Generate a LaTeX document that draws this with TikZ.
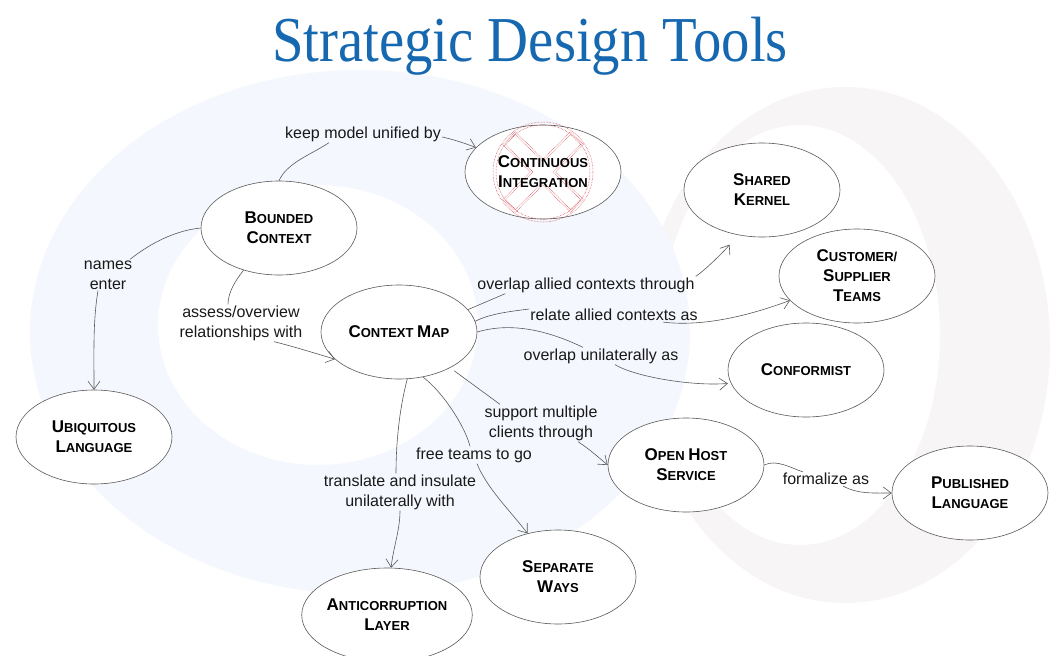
\documentclass[tikz,border=0pt]{standalone}
\usepackage{fontspec}
\setmainfont{Liberation Sans}
\newfontfamily\titlefont{Liberation Serif}
\usetikzlibrary{shapes.geometric}
\usetikzlibrary{arrows.meta}

\definecolor{titleblue}{RGB}{22,104,176}
\definecolor{bgblue}{RGB}{244,247,253}
\definecolor{bgpink}{RGB}{248,245,247}
\definecolor{xred}{RGB}{205,40,50}

\newcommand{\capword}[2]{{\fontsize{17}{20}\selectfont #1}{\fontsize{13}{20}\selectfont #2}}

\tikzset{
  concept/.style={ellipse,draw=black!65,fill=white,line width=0.6pt,minimum width=156pt,minimum height=94pt,inner sep=0pt,align=center,font=\fontsize{13}{20}\selectfont\bfseries},
  lbl/.style={align=center,inner sep=1pt,font=\fontsize{16}{20}\selectfont,text=black!90},
  link/.style={draw=black!65,line width=0.6pt},
  >={Straight Barb[length=8pt,width=12pt]}
}

\begin{document}
\begin{tikzpicture}[x=1pt,y=-1pt]
        \useasboundingbox (0,0) rectangle (1061,656);
        \fill[white] (0,0) rectangle (1061,656);

        \fill[bgpink,even odd rule] (845,345) ellipse [x radius=205,y radius=258] (800,335) ellipse [x radius=140,y radius=210];
        \fill[bgblue,even odd rule] (360,332) ellipse [x radius=330,y radius=262] (318,325) ellipse [x radius=160,y radius=140];

        \node[text=titleblue,font=\titlefont\fontsize{64}{72}\selectfont,anchor=base] (title) at (530,61) {\scalebox{0.886}[1]{Strategic Design Tools}};

        \node[concept] (bc) at (279,228) {\capword{B}{OUNDED}\\\capword{C}{ONTEXT}};
        \node[concept] (ci) at (543,172) {};
        \node[concept] (ul) at (94,437) {\capword{U}{BIQUITOUS}\\\capword{L}{ANGUAGE}};
        \node[concept] (cm) at (399,332) {\capword{C}{ONTEXT} \capword{M}{AP}};
        \node[concept] (sk) at (762,190) {\capword{S}{HARED}\\\capword{K}{ERNEL}};
        \node[concept] (cst) at (857,276) {\capword{C}{USTOMER/}\\\capword{S}{UPPLIER}\\\capword{T}{EAMS}};
        \node[concept] (conf) at (806,370) {\capword{C}{ONFORMIST}};
        \node[concept] (ohs) at (686,465) {\capword{O}{PEN} \capword{H}{OST}\\\capword{S}{ERVICE}};
        \node[concept] (pl) at (970,493) {\capword{P}{UBLISHED}\\\capword{L}{ANGUAGE}};
        \node[concept] (sw) at (558,577) {\capword{S}{EPARATE}\\\capword{W}{AYS}};
        \node[concept,minimum width=166pt] (acl) at (387,615) {\capword{A}{NTICORRUPTION}\\\capword{L}{AYER}};

        \begin{scope}[xred,line width=0.5pt,densely dotted]
            \draw (ci.center) circle (50) (ci.center) circle (47);
            \draw[shift={(ci.center)},rotate=45] (46,7) -- (7,7) -- (7,46) -- (-7,46) -- (-7,7) -- (-46,7) -- (-46,-7) -- (-7,-7) -- (-7,-46) -- (7,-46) -- (7,-7) -- (46,-7) -- cycle;
            \draw[shift={(ci.center)},rotate=45] (48,9) -- (9,9) -- (9,48) -- (-9,48) -- (-9,9) -- (-48,9) -- (-48,-9) -- (-9,-9) -- (-9,-48) -- (9,-48) -- (9,-9) -- (48,-9) -- cycle;
        \end{scope}
        \node[font=\fontsize{13}{20}\selectfont\bfseries,align=center] (citext) at (ci.center) {\capword{C}{ONTINUOUS}\\\capword{I}{NTEGRATION}};

        \node[lbl] (lkeep) at (363,134) {keep model unified by};
        \node[lbl] (lnames) at (108,275) {names\\enter};
        \node[lbl] (lassess) at (241,323) {assess/overview\\relationships with};
        \node[lbl] (lshared) at (586,285) {overlap allied contexts through};
        \node[lbl] (lrelate) at (614,315) {relate allied contexts as};
        \node[lbl] (lconf) at (601,356) {overlap unilaterally as};
        \node[lbl] (lsupport) at (541,423) {support multiple\\clients through};
        \node[lbl] (lfree) at (474,455) {free teams to go};
        \node[lbl] (ltrans) at (400,492) {translate and insulate\\unilaterally with};
        \node[lbl] (lform) at (826,479) {formalize as};

        \draw[link] (bc.north) .. controls +(8,-18) and +(-18,12) .. ([xshift=-34pt]lkeep.south);
        \draw[link,->] ([yshift=-3pt]lkeep.east) .. controls +(10,2) and +(-10,-4) .. (ci.160);

        \draw[link] (bc.west) .. controls +(-30,3) and +(15,-12) .. ([xshift=22pt]lnames.north);
        \draw[link,->] ([xshift=-10pt]lnames.south) .. controls +(-5,30) and +(0,-40) .. (ul.north);

        \draw[link] (bc.-130) .. controls +(-8,10) and +(0,-12) .. ([xshift=-13pt]lassess.north);
        \draw[link,->] ([xshift=33pt]lassess.south) .. controls +(20,5) and +(-20,-6) .. (cm.203);

        \draw[link] (cm.18) -- ([xshift=29pt]lshared.south west);
        \draw[link,->,shorten >=12pt] (lshared.north east) .. controls +(12,-8) and +(-8,12) .. (sk.-120);

        \draw[link] (cm.8) .. controls +(15,-8) and +(-15,2) .. ([yshift=6pt]lrelate.west);
        \draw[link,->] ([xshift=49pt]lrelate.south) .. controls +(40,5) and +(-40,15) .. (cst.200);

        \draw[link] (cm.east) .. controls +(40,-12) and +(-25,-12) .. ([xshift=-18pt]lconf.north);
        \draw[link,->,shorten >=3pt] ([xshift=14pt]lconf.south) .. controls +(20,12) and +(-40,3) .. (conf.190);

        \draw[link,shorten <=5pt] (cm.-35) -- ([xshift=-41pt]lsupport.north);
        \draw[link,->] ([xshift=37pt]lsupport.south) .. controls +(12,8) and +(-12,-10) .. (ohs.180);

        \draw[link] (cm.-62) .. controls +(20,15) and +(-5,-20) .. ([xshift=-4pt]lfree.north);
        \draw[link,->] ([xshift=3pt]lfree.south) .. controls +(10,25) and +(-15,-20) .. (sw.125);

        \draw[link] (cm.-80) .. controls +(-8,30) and +(0,-30) .. ([xshift=-4pt]ltrans.north);
        \draw[link,->] (ltrans.south) .. controls +(0,20) and +(2,-20) .. (acl.85);

        \draw[link] (ohs.east) .. controls +(12,-6) and +(-12,-4) .. ([xshift=-23pt]lform.north);
        \draw[link,->] ([xshift=17pt]lform.south) .. controls +(15,8) and +(-20,0) .. (pl.west);

    \end{tikzpicture}
\end{document}
